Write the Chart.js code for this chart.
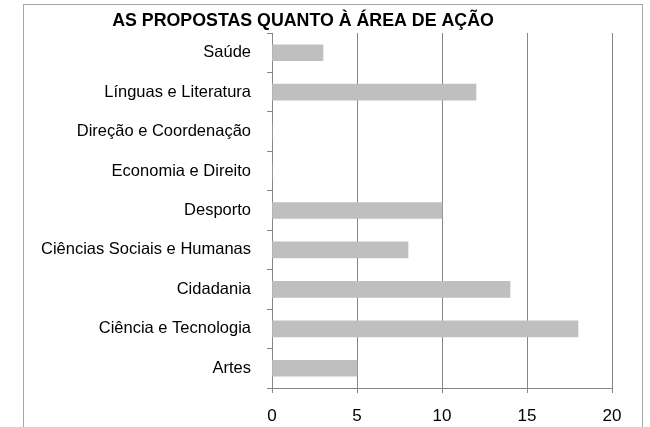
<!DOCTYPE html>
<html>
<head>
<meta charset="utf-8">
<script src="https://cdn.jsdelivr.net/npm/chart.js@4/dist/chart.umd.min.js"></script>
<style>
    html, body { margin: 0; padding: 0; background: #fff; }
    #wrap { width: 650px; height: 427px; position: relative; }
</style>
</head>
<body>
<div id="wrap"><canvas id="areaChart" width="650" height="427"></canvas></div>
<script>
// Proposals by area of action
const categories = [
    'Saúde',
    'Línguas e Literatura',
    'Direção e Coordenação',
    'Economia e Direito',
    'Desporto',
    'Ciências Sociais e Humanas',
    'Cidadania',
    'Ciência e Tecnologia',
    'Artes'
];
const proposals = [3, 12, 0, 0, 10, 8, 14, 18, 5];
const xTicks = [0, 5, 10, 15, 20];
const chartTitle = 'AS PROPOSTAS QUANTO À ÁREA DE AÇÃO';

const gridGray = '#868686';
const barGray = '#bfbfbf';
const labelFont = "'Liberation Sans', Arial, sans-serif";

// Frame around the chart and the title, drawn by hand
const framePlugin = {
    id: 'frame',
    beforeDraw(chart) {
        const ctx = chart.ctx;
        ctx.save();
        ctx.strokeStyle = '#a6a6a6';
        ctx.lineWidth = 1;
        ctx.strokeRect(23.5, 4.5, 619, 500);
        ctx.restore();
    },
    afterDraw(chart) {
        const ctx = chart.ctx;
        ctx.save();
        ctx.fillStyle = '#000';
        ctx.font = 'bold 17.8px ' + labelFont;
        ctx.textAlign = 'center';
        ctx.textBaseline = 'middle';
        ctx.fillText(chartTitle, 303, 21);
        ctx.restore();
    }
};

const ctx = document.getElementById('areaChart').getContext('2d');
new Chart(ctx, {
    type: 'bar',
    data: {
        labels: categories,
        datasets: [{
            data: proposals,
            backgroundColor: barGray,
            borderWidth: 0,
            barThickness: 16
        }]
    },
    options: {
        indexAxis: 'y',
        responsive: false,
        animation: false,
        layout: {
            padding: { left: 0, top: 33, right: 38, bottom: 0 }
        },
        plugins: {
            legend: { display: false },
            tooltip: { enabled: false },
            title: { display: false }
        },
        scales: {
            x: {
                min: 0,
                max: 20,
                afterBuildTicks(scale) {
                    scale.ticks = xTicks.map(v => ({ value: v }));
                },
                afterFit(scale) { scale.height = 39; },
                grid: {
                    color: gridGray,
                    lineWidth: 1,
                    drawOnChartArea: true,
                    drawTicks: true,
                    tickLength: 5
                },
                border: { display: true, color: gridGray },
                ticks: {
                    color: '#000',
                    padding: 13,
                    font: { size: 17, family: labelFont }
                }
            },
            y: {
                afterFit(scale) { scale.width = 272; },
                grid: {
                    offset: true,
                    color: gridGray,
                    drawOnChartArea: false,
                    drawTicks: true,
                    tickLength: 5
                },
                border: { display: true, color: gridGray },
                ticks: {
                    color: '#000',
                    padding: 16,
                    font: { size: 16.5, family: labelFont }
                }
            }
        }
    },
    plugins: [framePlugin]
});
</script>
</body>
</html>
